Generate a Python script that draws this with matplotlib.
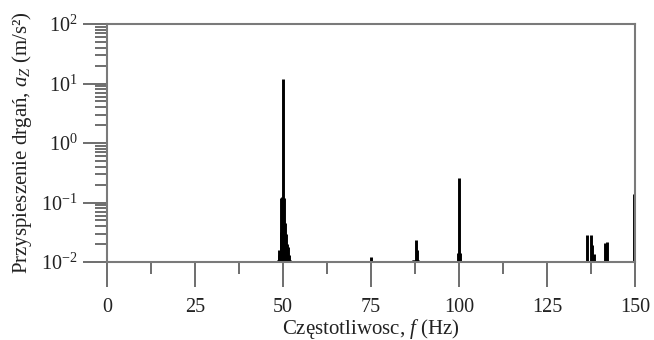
import numpy as np
import matplotlib
matplotlib.use("Agg")
import matplotlib.pyplot as plt
from matplotlib.ticker import LogLocator, MultipleLocator

plt.rcParams['font.family'] = ['Liberation Serif', 'DejaVu Serif']
plt.rcParams['mathtext.fontset'] = 'custom'
plt.rcParams['mathtext.rm'] = 'Liberation Serif'
plt.rcParams['mathtext.it'] = 'Liberation Serif:italic'
plt.rcParams['axes.unicode_minus'] = False

# spectrum lines (Hz, m/s^2)
freq_50 = [48.5, 48.8, 49.0, 49.3, 49.5, 49.8, 50.0, 50.3, 50.5, 50.8, 51.0, 51.3, 51.6, 52.0]
amp_50 = [0.011, 0.013, 0.016, 0.032, 0.12, 0.125, 11.8, 0.12, 0.045, 0.03, 0.02, 0.018, 0.013, 0.011]

freq_mid = [75.0, 86.9, 87.3, 87.7, 88.0, 88.3, 99.8, 100.0, 100.2]
amp_mid = [0.012, 0.011, 0.011, 0.023, 0.016, 0.011, 0.014, 0.26, 0.014]

freq_hi = [136.4, 137.6, 137.9, 138.4, 141.6, 142.0, 149.8]
amp_hi = [0.028, 0.028, 0.019, 0.0135, 0.021, 0.022, 0.14]

x_ticks = [0, 25, 50, 75, 100, 125, 150]

freqs = np.array(freq_50 + freq_mid + freq_hi)
amps = np.array(amp_50 + amp_mid + amp_hi)

fig = plt.figure(figsize=(6.54, 3.40), dpi=100)
ax = fig.add_axes([0.1636, 0.2294, 0.8074, 0.70])

ax.vlines(freqs, 0.01, amps, color='k', lw=2.1, capstyle='butt')

ax.set_yscale('log')
ax.set_ylim(1e-2, 1e2)
ax.set_xlim(0, 150)
ax.set_xticks(x_ticks)
ax.xaxis.set_minor_locator(MultipleLocator(12.5))
ax.yaxis.set_major_locator(LogLocator(base=10, numticks=10))
ax.yaxis.set_minor_locator(LogLocator(base=10, subs=np.arange(2, 10), numticks=20))

for s in ax.spines.values():
    s.set_color('#7a7a7a')
    s.set_linewidth(1.5)

ax.tick_params(axis='both', which='both', direction='out', colors='#555555', width=1.2,
               labelcolor='#222222', labelsize=14.5)
ax.tick_params(axis='x', which='major', length=18, pad=8)
ax.tick_params(axis='x', which='minor', length=8.6)
ax.tick_params(axis='y', which='major', length=17.3, pad=4)
ax.tick_params(axis='y', which='minor', length=8.6)

ax.set_xlabel('Częstotliwosc, $f$ (Hz)', fontsize=15, color='#222222', labelpad=0)
ax.set_ylabel('Przyspieszenie drgań, $a_Z$ (m/s²)', fontsize=15, color='#222222', labelpad=5)

fig.savefig('out.png', dpi=100)
